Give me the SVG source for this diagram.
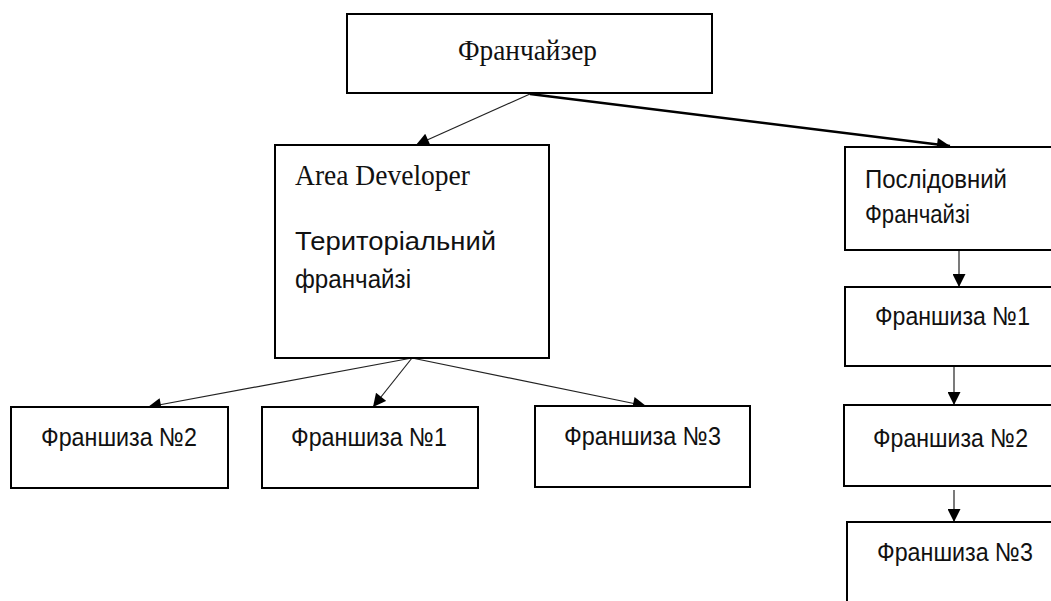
<svg xmlns="http://www.w3.org/2000/svg" width="1051" height="601" viewBox="0 0 1051 601">
<style>
.box{fill:#fff;stroke:#000;stroke-width:2}
.serif{font-family:"Liberation Serif","Times New Roman",serif;font-size:29px;fill:#111}
.sans{font-family:"Liberation Sans",Arial,sans-serif;font-size:26px;fill:#111}
.ln{stroke:#222;stroke-width:1.2;fill:none;marker-end:url(#ah)}
.thick{stroke:#000;stroke-width:2.4;fill:none;marker-end:url(#ah)}
</style>
<defs>
<marker id="ah" viewBox="0 0 10 10" refX="10" refY="5" markerWidth="14" markerHeight="13" markerUnits="userSpaceOnUse" orient="auto">
<path d="M0,0 L10,5 L0,10 Z" fill="#000"/>
</marker>
</defs>
<rect width="1051" height="601" fill="#fff"/>
<g id="connectors">
<line class="ln" x1="530" y1="94" x2="416" y2="145"/>
<line class="thick" x1="530" y1="94" x2="950" y2="146"/>
<line class="ln" x1="412" y1="358" x2="148" y2="407"/>
<line class="ln" x1="412" y1="358" x2="373" y2="407"/>
<line class="ln" x1="412" y1="358" x2="646" y2="406"/>
<line class="ln" x1="959" y1="250" x2="959" y2="287"/>
<line class="ln" x1="954" y1="363" x2="954" y2="405"/>
<line class="ln" x1="954" y1="490" x2="954" y2="522"/>
</g>
<g id="franchisor">
<rect class="box" x="347" y="14" width="365" height="79"/>
<text class="serif" x="458" y="60" textLength="139" lengthAdjust="spacingAndGlyphs">Франчайзер</text>
</g>
<g id="area-developer">
<rect class="box" x="275" y="145" width="274" height="213"/>
<text class="serif" x="295" y="185" textLength="175" lengthAdjust="spacingAndGlyphs">Area Developer</text>
<text class="sans" x="295" y="250" textLength="201" lengthAdjust="spacingAndGlyphs">Територіальний</text>
<text class="sans" x="295" y="288" textLength="116" lengthAdjust="spacingAndGlyphs">франчайзі</text>
</g>
<g id="left-f2">
<rect class="box" x="11" y="407" width="217" height="81"/>
<text class="sans" x="41" y="446" textLength="156" lengthAdjust="spacingAndGlyphs">Франшиза №2</text>
</g>
<g id="left-f1">
<rect class="box" x="262" y="407" width="216" height="81"/>
<text class="sans" x="291" y="446" textLength="156" lengthAdjust="spacingAndGlyphs">Франшиза №1</text>
</g>
<g id="left-f3">
<rect class="box" x="535" y="406" width="215" height="81"/>
<text class="sans" x="564" y="445" textLength="157" lengthAdjust="spacingAndGlyphs">Франшиза №3</text>
</g>
<g id="sequential">
<rect class="box" x="845" y="147" width="220" height="103"/>
<text class="sans" x="865" y="188" textLength="142" lengthAdjust="spacingAndGlyphs">Послідовний</text>
<text class="sans" x="865" y="223" textLength="105" lengthAdjust="spacingAndGlyphs">Франчайзі</text>
</g>
<g id="right-f1">
<rect class="box" x="845" y="287" width="220" height="79"/>
<text class="sans" x="875" y="325" textLength="155" lengthAdjust="spacingAndGlyphs">Франшиза №1</text>
</g>
<g id="right-f2">
<rect class="box" x="844" y="405" width="220" height="81"/>
<text class="sans" x="873" y="447" textLength="155" lengthAdjust="spacingAndGlyphs">Франшиза №2</text>
</g>
<g id="right-f3">
<rect class="box" x="847" y="522" width="220" height="100"/>
<text class="sans" x="877" y="561" textLength="156" lengthAdjust="spacingAndGlyphs">Франшиза №3</text>
</g>
</svg>
